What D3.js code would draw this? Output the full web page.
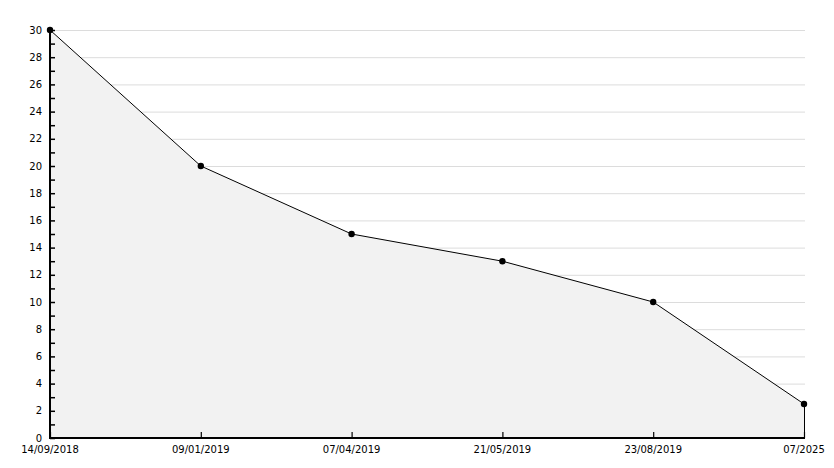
<!DOCTYPE html>
<html><head><meta charset="utf-8">
<script src="https://cdn.jsdelivr.net/npm/d3@7"></script>
<style>body{margin:0;background:#fff}svg{display:block}</style>
</head><body><svg id="c" width="834" height="468"></svg>
<script>
const categories = ["14/09/2018","09/01/2019","07/04/2019","21/05/2019","23/08/2019","07/2025"];
const values = [30, 20, 15, 13, 10, 2.5];
const yTicks = [0,2,4,6,8,10,12,14,16,18,20,22,24,26,28,30];

const svg = d3.select("#c");
const L = 50, R = 804, T = 30, B = 438;
const x = d3.scalePoint().domain(categories).range([L, R]);
const y = d3.scaleLinear().domain([0, 30]).range([B, T]);
const font = "DejaVu Sans, Verdana, sans-serif";

// grid
svg.append("g").selectAll("line").data(yTicks.filter(d => d > 0)).join("line")
  .attr("x1", L).attr("x2", 805).attr("y1", d => y(d) + 0.5).attr("y2", d => y(d) + 0.5)
  .attr("stroke", "#dcdcdc").attr("stroke-width", 1);

// area
const data = categories.map((c, i) => ({c, v: values[i]}));
svg.append("path").datum(data)
  .attr("d", d3.area().x(d => x(d.c)).y0(B).y1(d => y(d.v)))
  .attr("fill", "#f2f2f2");
svg.append("path").datum(data)
  .attr("d", d3.line().x(d => x(d.c)).y(d => y(d.v)))
  .attr("fill", "none").attr("stroke", "#000").attr("stroke-width", 1);
// right edge
const last = data[data.length - 1];
svg.append("line").attr("x1", x(last.c) + 0.5).attr("x2", x(last.c) + 0.5)
  .attr("y1", y(last.v)).attr("y2", B).attr("stroke", "#000").attr("stroke-width", 1);

// y axis
const ya = svg.append("g").attr("transform", `translate(${L},0)`)
  .call(d3.axisRight(y).tickValues(d3.range(0, 31, 1)).tickSize(5).tickFormat(""));
ya.select(".domain").remove();
ya.selectAll("line").attr("stroke", "#000").attr("stroke-width", 1.5);
svg.append("g").selectAll("text").data(yTicks).join("text")
  .attr("x", L - 8).attr("y", d => y(d)).attr("dy", "0.35em")
  .attr("text-anchor", "end").attr("font-family", font).attr("font-size", 10).text(d => d);
svg.append("line").attr("x1", L).attr("x2", L).attr("y1", T - 1).attr("y2", B + 1)
  .attr("stroke", "#000").attr("stroke-width", 2);

// x axis
const xa = svg.append("g").attr("transform", `translate(0,${B})`)
  .call(d3.axisTop(x).tickSize(6).tickFormat(""));
xa.select(".domain").remove();
xa.selectAll("line").attr("stroke", "#000").attr("stroke-width", 1.2);
svg.append("line").attr("x1", L - 1).attr("x2", R + 1).attr("y1", B).attr("y2", B)
  .attr("stroke", "#000").attr("stroke-width", 2);
svg.append("g").selectAll("text").data(categories).join("text")
  .attr("x", d => x(d)).attr("y", 453)
  .attr("text-anchor", "middle").attr("font-family", font).attr("font-size", 10).text(d => d);

// markers
svg.append("g").selectAll("circle").data(data).join("circle")
  .attr("cx", d => x(d.c)).attr("cy", d => y(d.v)).attr("r", 3.2).attr("fill", "#000");
</script></body></html>
